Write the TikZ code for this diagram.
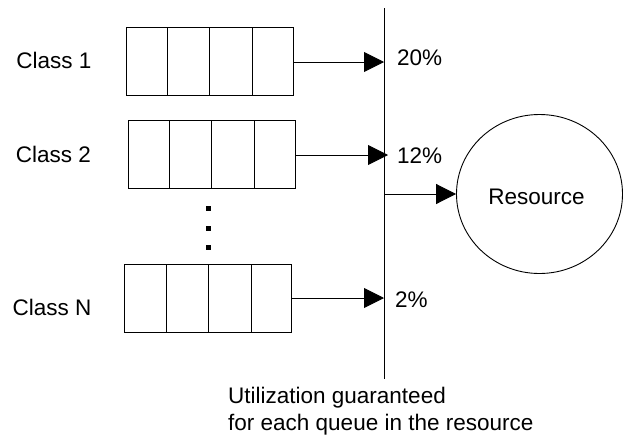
\documentclass[tikz,border=0pt]{standalone}
\usepackage{fontspec}
\setmainfont{Liberation Sans}
\usetikzlibrary{arrows.meta,shapes.geometric,calc}
\tikzset{
  queue/.style={draw, line width=0.9pt, minimum width=167pt, minimum height=68pt, inner sep=0pt,
    path picture={
      \foreach \f in {0.25,0.5,0.76}{
        \draw[line width=0.9pt] ($(path picture bounding box.north west)!\f!(path picture bounding box.north east)$) --
          ($(path picture bounding box.south west)!\f!(path picture bounding box.south east)$);
      }}},
  flow/.style={line width=0.9pt, -{Triangle[length=20pt,width=20pt]}},
  lbl/.style={font=\fontsize{22.5pt}{27pt}\selectfont, inner sep=0pt},
}
\begin{document}
\begin{tikzpicture}[x=1pt,y=-1pt]
\useasboundingbox (0,0) rectangle (623,442);
% queues
\node[queue] (q1) at (209.5,61) {};
\node[queue] (q2) at (211.5,154) {};
\node[queue] (qn) at (208,298.5) {};
% bus
\coordinate (bt) at (384,8);
\coordinate (bb) at (384,379);
\draw[line width=0.9pt] (bt) -- (bb);
\coordinate (b1) at (384,62);
\coordinate (b2) at (388,155);
\coordinate (bn) at (384,298);
\coordinate (br) at (384,194);
% resource
\node[ellipse, draw, line width=0.9pt, minimum width=166pt, minimum height=159pt, inner sep=0pt] (res) at (539.5,194) {};
\node[lbl, anchor=base] (rt) at (536.5,204) {Resource};
% arrows
\draw[flow] (q1.east |- b1) -- (b1);
\draw[flow] (q2.east |- b2) -- (b2);
\draw[flow] (qn.east |- bn) -- (bn);
\draw[flow] (br) -- (res.west);
% labels
\node[lbl, anchor=base] (c1) at (54,68) {Class 1};
\node[lbl, anchor=base] (c2) at (53.5,162) {Class 2};
\node[lbl, anchor=base] (cn) at (52,315) {Class N};
\node[lbl, anchor=base west] (p1) at (397,65) {20\%};
\node[lbl, anchor=base west] (p2) at (397,163) {12\%};
\node[lbl, anchor=base west] (pn) at (395,307) {2\%};
% dots
\foreach \yy in {208,228,247}{
  \fill (205.5,\yy-2.5) rectangle (210.5,\yy+2.5);
}
% caption
\node[lbl, anchor=base west] (u1) at (228,403) {Utilization guaranteed};
\node[lbl, anchor=base west] (u2) at (228,430) {for each queue in the resource};
\end{tikzpicture}
\end{document}
